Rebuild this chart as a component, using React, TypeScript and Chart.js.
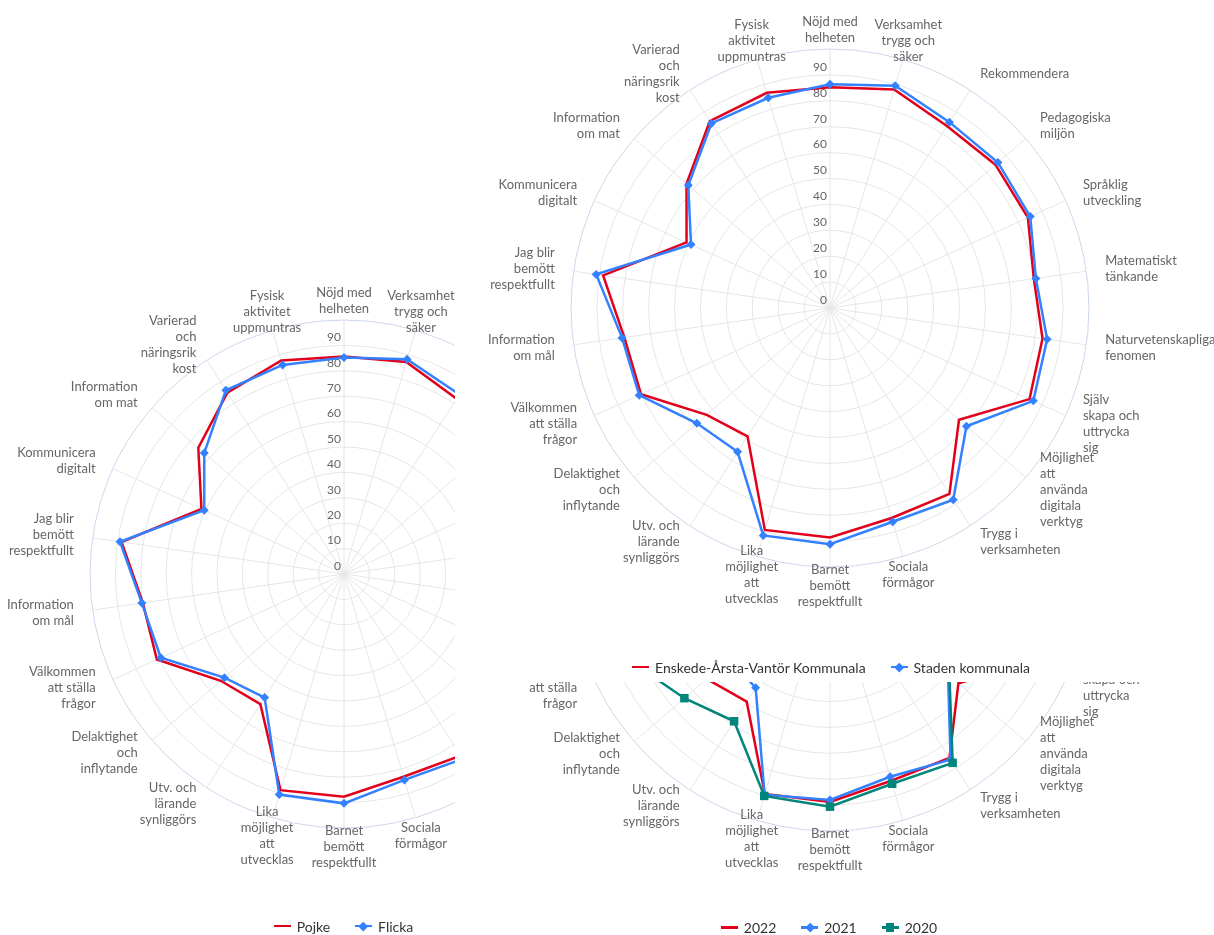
import React, { useEffect, useRef } from "react";
import { Chart, registerables } from "chart.js";

Chart.register(...registerables);

// ---------- DATA ----------
const categories: string[][] = [
  ["Nöjd med", "helheten"],
  ["Verksamhet", "trygg och", "säker"],
  ["Rekommendera"],
  ["Pedagogiska", "miljön"],
  ["Språklig", "utveckling"],
  ["Matematiskt", "tänkande"],
  ["Naturvetenskapliga", "fenomen"],
  ["Själv", "skapa och", "uttrycka", "sig"],
  ["Möjlighet", "att", "använda", "digitala", "verktyg"],
  ["Trygg i", "verksamheten"],
  ["Sociala", "förmågor"],
  ["Barnet", "bemött", "respektfullt"],
  ["Lika", "möjlighet", "att", "utvecklas"],
  ["Utv. och", "lärande", "synliggörs"],
  ["Delaktighet", "och", "inflytande"],
  ["Välkommen", "att ställa", "frågor"],
  ["Information", "om mål"],
  ["Jag blir", "bemött", "respektfullt"],
  ["Kommunicera", "digitalt"],
  ["Information", "om mat"],
  ["Varierad", "och", "näringsrik", "kost"],
  ["Fysisk", "aktivitet", "uppmuntras"],
];

const tickLabels = [0, 10, 20, 30, 40, 50, 60, 70, 80, 90];

// Left chart: gender
const pojke = [85.6, 87, 82, 83, 82, 78, 81, 83, 63, 85, 83.2, 87.7, 88.7, 60.9, 64.2, 81, 80, 88.5, 61.7, 75.9, 84.9, 87.6];
const flicka = [85.2, 88.1, 84, 85, 84, 80, 83, 85, 68, 86.5, 84.5, 90.3, 90.5, 57.8, 62.3, 79.3, 80.4, 89.1, 60.5, 72.8, 86, 85.8];

// Right top chart: district vs city
const enskede = [85.2, 87.9, 83.5, 84.5, 84, 79.5, 82.9, 84.7, 65.9, 85.3, 84.5, 88.6, 89.3, 58.9, 63, 80.2, 80.2, 88.5, 60.9, 73.3, 85.8, 86.6];
const staden = [86.4, 89.4, 85.3, 85.8, 85, 80.3, 84.7, 86.3, 69.7, 88, 86, 91.2, 91.5, 66, 68, 81, 81.1, 91.2, 59, 72.4, 84.7, 84.6];

// Right bottom chart: years
const y2022 = [85.2, 87.9, 83.5, 84.5, 84, 79.5, 82.9, 84.7, 65.6, 85.3, 84, 88.8, 89.3, 59.5, 63, 80.2, 80.2, 88.5, 60.9, 73.3, 85.8, 86.6];
const y2021 = [84, 86, 82, 83, 82, 77, 80, 82, 60.3, 86.1, 82.4, 88, 89.6, 53.1, 51.5, 78, 78, 87, 58, 72, 83, 84];
const y2020 = [83, 85, 81, 82, 81, 76, 79, 81, 61, 87.6, 85.2, 90.6, 90.1, 68.5, 74.4, 84, 82, 88, 60, 73, 84, 85];

// ---------- STYLE ----------
const RED = "#e2001a";
const BLUE = "#3381ff";
const TEAL = "#00857a";
const FONT = "Lato, 'Open Sans', sans-serif";
const LABEL_COLOR = "#666666";

type Marker = "none" | "diamond" | "square";
type Series = { label: string; data: number[]; color: string; marker: Marker };
type Box = { x: number; y: number; w: number; h: number };

const labelPlugin = {
  id: "hcLabels",
  beforeDatasetsDraw(chart: any) {
    const scale = chart.scales.r;
    const ctx: CanvasRenderingContext2D = chart.ctx;
    ctx.save();
    ctx.fillStyle = LABEL_COLOR;
    ctx.font = `12px ${FONT}`;
    ctx.textAlign = "right";
    ctx.textBaseline = "middle";
    tickLabels.forEach((v) => {
      const d = scale.getDistanceFromCenterForValue(v);
      ctx.fillText(String(v), scale.xCenter - 3, scale.yCenter - d - 8);
    });
    ctx.font = `13px ${FONT}`;
    const labels = chart.data.labels as string[][];
    const n = labels.length;
    labels.forEach((lab, i) => {
      const pos = scale.getPointPosition(i, scale.drawingArea + 19);
      const deg = (i * 360) / n;
      let align: CanvasTextAlign = "center";
      if (deg > 20 && deg < 160) align = "left";
      else if (deg > 200 && deg < 340) align = "right";
      ctx.textAlign = align;
      const lines = Array.isArray(lab) ? lab : [lab];
      lines.forEach((ln, k) => {
        ctx.fillText(ln, pos.x, pos.y + (k - (lines.length - 1) / 2) * 16);
      });
    });
    ctx.restore();
  },
};

function RadarPanel(props: { clip: Box; canvas: Box; cx: number; cy: number; radius: number; series: Series[] }) {
  const { clip, canvas, cx, cy, radius, series } = props;
  const ref = useRef<HTMLCanvasElement | null>(null);

  useEffect(() => {
    if (!ref.current) return;
    const padLeft = cx - radius - canvas.x;
    const padTop = cy - radius - canvas.y;
    const padRight = canvas.w - padLeft - 2 * radius;
    const padBottom = canvas.h - padTop - 2 * radius;
    const n = series.length;
    const chart = new Chart(ref.current, {
      type: "radar",
      data: {
        labels: categories as any,
        datasets: series.map((s, i) => ({
          label: s.label,
          data: s.data,
          borderColor: s.color,
          backgroundColor: s.color,
          pointBackgroundColor: s.color,
          borderWidth: 2.5,
          fill: false,
          order: n - i,
          pointStyle: s.marker === "square" ? "rect" : "rectRot",
          pointRadius: s.marker === "none" ? 0 : s.marker === "square" ? 6 : 4.5,
          pointBorderWidth: 0,
          pointHoverRadius: 0,
        })),
      },
      options: {
        responsive: false,
        maintainAspectRatio: false,
        animation: false,
        events: [],
        layout: { padding: { left: padLeft, top: padTop, right: padRight, bottom: padBottom } },
        plugins: { legend: { display: false }, tooltip: { enabled: false } },
        scales: {
          r: {
            min: 0,
            max: 100,
            beginAtZero: true,
            ticks: { display: false, stepSize: 10 },
            grid: {
              circular: true,
              lineWidth: 1,
              color: (c: any) => (c.tick && c.tick.value === 100 ? "#ccd6eb" : "#e6e6e6"),
            },
            angleLines: { color: "#e6e6e6", lineWidth: 1 },
            pointLabels: { display: false },
          },
        },
      },
      plugins: [labelPlugin],
    } as any);
    return () => chart.destroy();
  }, []);

  return (
    <div style={{ position: "absolute", left: clip.x, top: clip.y, width: clip.w, height: clip.h, overflow: "hidden" }}>
      <canvas
        ref={ref}
        width={canvas.w}
        height={canvas.h}
        style={{ position: "absolute", left: canvas.x - clip.x, top: canvas.y - clip.y, width: canvas.w, height: canvas.h, display: "block" }}
      />
    </div>
  );
}

function LegendSymbol({ color, marker }: { color: string; marker: Marker }) {
  return (
    <span style={{ position: "relative", width: 17, height: 10, display: "inline-block", marginRight: 6 }}>
      <span style={{ position: "absolute", left: 0, top: 3.75, width: 17, height: 2.5, background: color }} />
      {marker === "diamond" && (
        <span style={{ position: "absolute", left: 5.25, top: 1.75, width: 6.5, height: 6.5, background: color, transform: "rotate(45deg)" }} />
      )}
      {marker === "square" && (
        <span style={{ position: "absolute", left: 4.25, top: 0.75, width: 8.5, height: 8.5, background: color }} />
      )}
    </span>
  );
}

function Legend({ cx, cy, series }: { cx: number; cy: number; series: Series[] }) {
  return (
    <div
      style={{
        position: "absolute",
        left: cx - 400,
        width: 800,
        top: cy - 10,
        height: 20,
        display: "flex",
        justifyContent: "center",
        alignItems: "center",
        gap: 25,
        fontFamily: FONT,
        fontSize: 14,
        color: "#333333",
        whiteSpace: "nowrap",
      }}
    >
      {series.map((s) => (
        <div key={s.label} style={{ display: "flex", alignItems: "center" }}>
          <LegendSymbol color={s.color} marker={s.marker} />
          <span>{s.label}</span>
        </div>
      ))}
    </div>
  );
}

const genderSeries: Series[] = [
  { label: "Pojke", data: pojke, color: RED, marker: "none" },
  { label: "Flicka", data: flicka, color: BLUE, marker: "diamond" },
];
const districtSeries: Series[] = [
  { label: "Enskede-Årsta-Vantör Kommunala", data: enskede, color: RED, marker: "none" },
  { label: "Staden kommunala", data: staden, color: BLUE, marker: "diamond" },
];
const yearSeries: Series[] = [
  { label: "2022", data: y2022, color: RED, marker: "none" },
  { label: "2021", data: y2021, color: BLUE, marker: "diamond" },
  { label: "2020", data: y2020, color: TEAL, marker: "square" },
];

export default function App() {
  return (
    <div style={{ position: "fixed", left: 0, top: 0, width: 1214, height: 935, overflow: "hidden", background: "#ffffff" }}>
      <RadarPanel
        clip={{ x: 0, y: 0, w: 455, h: 935 }}
        canvas={{ x: 0, y: 250, w: 700, h: 685 }}
        cx={344}
        cy={574}
        radius={254}
        series={genderSeries}
      />
      <Legend cx={343.5} cy={926} series={genderSeries} />
      <RadarPanel
        clip={{ x: 460, y: 0, w: 754, h: 682 }}
        canvas={{ x: 460, y: 0, w: 754, h: 682 }}
        cx={830}
        cy={308}
        radius={259}
        series={districtSeries}
      />
      <Legend cx={831} cy={667} series={districtSeries} />
      <RadarPanel
        clip={{ x: 460, y: 682, w: 754, h: 253 }}
        canvas={{ x: 460, y: 290, w: 754, h: 645 }}
        cx={830}
        cy={572}
        radius={259}
        series={yearSeries}
      />
      <Legend cx={829} cy={927.5} series={yearSeries} />
    </div>
  );
}
